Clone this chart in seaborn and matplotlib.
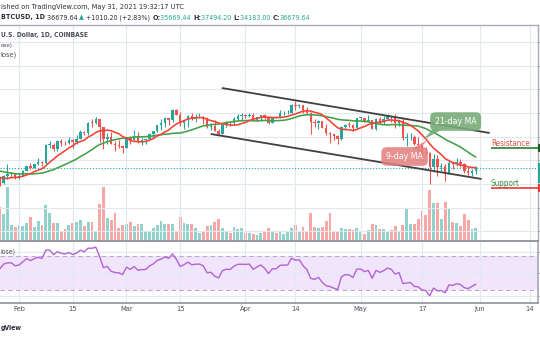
import numpy as np
import pandas as pd
import matplotlib
matplotlib.use("Agg")
import matplotlib.pyplot as plt
import matplotlib.dates as mdates
import matplotlib.transforms as mtransforms
from matplotlib import font_manager
from matplotlib.patches import Rectangle, Polygon
import seaborn as sns

# ---------------------------------------------------------------- data
# closes before the first visible candle (feed the MA / RSI calculations)
warmup_close = [29400, 32200, 33000, 31990, 33950, 36800, 39400, 40600, 40200,
                38200, 35550, 33900, 37350, 39150, 36800, 36050, 35800, 36650,
                36000, 35550, 30830, 33000, 32100, 32290, 32250, 32500]

# BTCUSD (Coinbase) daily candles, 2021-01-27 .. 2021-05-31
first_day = "2021-01-27"
open_ = [32500, 30400, 33400, 34280, 34300,
         33110, 33520, 35510, 37660, 36960, 38300, 39240, 38870, 46450, 46500,
         44850, 48000, 47420, 47180, 48580, 47900, 49150, 52150, 51600, 55900,
         55850, 57410, 54090, 48890, 49680, 47020, 46290, 46130,
         45160, 49630, 48430, 50350, 48370, 48760, 48880, 50970, 52390, 54880,
         55860, 57800, 57230, 61190, 59000, 55600, 56900, 58900, 57650, 58010,
         58090, 57370, 54090, 54350, 52300, 51300, 55060, 55860, 55780, 57620,
         58780,
         58800, 58740, 58950, 57090, 58220, 59130, 58000, 55980, 58100, 58080,
         59800, 59850, 59920, 63580, 62960, 63210, 61400, 60010, 56150, 55660,
         56470, 53800, 51700, 51190, 50100, 49060, 54030, 55050, 54880, 53580,
         57750, 57830, 56620, 57200, 53240, 57480, 56400, 57360, 58900, 58280,
         55860, 56700, 49410, 49690, 49930, 46760, 46430, 43540, 42900, 36990,
         40600, 37310, 37500, 34720, 38800, 38330, 39240, 38530, 35660, 34620,
         35669.44]
high = [32550, 33780, 38500, 34900, 34340,
        34700, 35900, 37660, 38700, 38300, 40950, 39700, 46790, 48200, 47310,
        48630, 48880, 48170, 49720, 49000, 50550, 52620, 52530, 56330, 57500,
        58350, 57530, 54180, 51370, 51950, 48370, 48390, 46600,
        49790, 50200, 52650, 51780, 49450, 49200, 51450, 52400, 54900, 57390,
        58100, 58000, 61790, 61680, 60600, 56950, 58970, 60040, 59450, 59900,
        58600, 58400, 55830, 57200, 53250, 55400, 56600, 56580, 58400, 59370,
        59800,
        59470, 60000, 59800, 58500, 59250, 59470, 58650, 58150, 58900, 61200,
        60700, 61300, 63800, 64900, 63800, 63580, 62550, 60400, 57550, 57000,
        56780, 55470, 52100, 51200, 50500, 54360, 55500, 56400, 55200, 57950,
        58450, 57950, 58980, 57220, 57900, 58350, 58640, 59500, 59300, 59580,
        56900, 58000, 51350, 51560, 50700, 49800, 46640, 45800, 43550, 42540,
        42200, 38800, 38300, 39900, 39800, 40800, 40400, 38880, 37300, 36400,
        37494.20]
low = [29240, 29850, 31970, 32840, 32300,
       32300, 33420, 35380, 36200, 36600, 38200, 37400, 37990, 45000, 43800,
       43990, 46200, 46300, 47050, 45000, 47030, 48950, 50900, 50700, 53900,
       55500, 47600, 44900, 47000, 46700, 44150, 45000, 43000,
       45000, 47060, 48150, 47500, 46300, 47070, 48880, 49300, 51850, 53000,
       54270, 55000, 56100, 59000, 54600, 53200, 54150, 57040, 56300, 57850,
       55500, 53660, 53000, 52300, 50400, 51300, 53960, 54700, 54900, 57000,
       56870,
       57950, 58500, 57000, 56500, 56800, 57350, 55500, 55800, 57700, 57900,
       59300, 59400, 59900, 61300, 62000, 60000, 59600, 51000, 54200, 53400,
       53600, 50500, 47500, 48800, 47000, 48800, 53300, 53900, 52400, 53100,
       57050, 56050, 56480, 53060, 52950, 55250, 55400, 56950, 56270, 53500,
       54440, 48800, 46000, 48800, 46650, 43800, 42100, 42250, 30000, 35000,
       33500, 35300, 31100, 34400, 36400, 37800, 37200, 34800, 33600, 33400,
       34183.00]
close = [30400, 33400, 34280, 34300, 33110,
         33520, 35510, 37660, 36960, 38300, 39240, 38870, 46450, 46500, 44850,
         48000, 47420, 47180, 48580, 47900, 49150, 52150, 51600, 55900, 55850,
         57410, 54090, 48890, 49680, 47020, 46290, 46130, 45160,
         49630, 48430, 50350, 48370, 48760, 48880, 50970, 52390, 54880, 55860,
         57800, 57230, 61190, 59000, 55600, 56900, 58900, 57650, 58010, 58090,
         57370, 54090, 54350, 52300, 51300, 55060, 55860, 55780, 57620, 58780,
         58800,
         58740, 58950, 57090, 58220, 59130, 58000, 55980, 58100, 58080, 59800,
         59850, 59920, 63580, 62960, 63210, 61400, 60010, 56150, 55660, 56470,
         53800, 51700, 51190, 50100, 49060, 54030, 55050, 54880, 53580, 57750,
         57830, 56620, 57200, 53240, 57480, 56400, 57360, 58900, 58280, 55860,
         56700, 49410, 49690, 49930, 46760, 46430, 43540, 42900, 36990, 40600,
         37310, 37500, 34720, 38800, 38330, 39240, 38530, 35660, 34620, 35669.44,
         36679.64]
# volume, thousands of BTC
volume_k = [40.8, 32.4, 64.8, 19.2, 16.8,
            19.2, 18.0, 21.6, 28.8, 16.8, 24.0, 19.2, 43.2, 33.6, 21.6, 21.6,
            12.0, 14.4, 19.2, 21.6, 22.8, 25.2, 18.0, 22.8, 22.8, 12.0, 44.4,
            64.8, 27.6, 25.2, 33.6, 15.6, 19.2,
            20.4, 22.8, 18.0, 20.4, 20.4, 10.8, 12.0, 15.6, 19.2, 24.0, 20.4,
            20.4, 20.4, 12.0, 28.8, 21.6, 20.4, 20.4, 15.6, 9.6, 12.0, 18.0,
            19.2, 22.8, 26.4, 15.6, 10.8, 9.6, 16.8, 14.4, 15.6,
            9.6, 9.6, 8.4, 7.2, 9.6, 12.0, 15.6, 10.8, 9.6, 12.0, 8.4, 12.0,
            15.6, 19.2, 10.8, 16.8, 12.0, 33.6, 16.8, 15.6, 16.8, 24.0, 33.6,
            10.8, 12.0, 15.6, 14.4, 14.4, 13.2, 15.6,
            10.8, 8.4, 13.2, 20.4, 19.2, 14.4, 14.4, 12.0, 13.2, 18.0, 12.0,
            19.2, 38.4, 20.4, 20.4, 26.4, 36.0, 31.2, 61.2, 45.6, 45.6, 26.4,
            46.8, 39.6, 22.8, 21.6, 18.0, 32.4, 25.2, 14.4, 15.6]

# trend channel and levels drawn on the chart
channel_upper_dates = ["2021-03-25 20:00", "2021-06-03 15:00"]
channel_upper_price = [70560, 51550]
channel_lower_dates = ["2021-03-22 23:00", "2021-06-01 12:00"]
channel_lower_price = [51130, 32110]
level_start = "2021-06-03 22:00"
resistance_level = 45210
support_level = 28310
ma_fast, ma_slow, rsi_len = 9, 21, 14

tick_dates = ["2021-02-01", "2021-02-15", "2021-03-01", "2021-03-15", "2021-04-01",
              "2021-04-14", "2021-05-01", "2021-05-17", "2021-06-01", "2021-06-14"]
tick_labels = ["Feb", "15", "Mar", "15", "Apr", "14", "May", "17", "Jun", "14"]

# ---------------------------------------------------------------- style
sns.set_theme(style="white")


def pick_font():
    props = [font_manager.FontProperties(family="Liberation Sans Narrow"),
             font_manager.FontProperties(family="DejaVu Sans", stretch="condensed"),
             font_manager.FontProperties(family="Liberation Sans", stretch="condensed")]
    for fp in props:
        try:
            path = font_manager.findfont(fp, fallback_to_default=False)
        except ValueError:
            continue
        if "Narrow" in path or "Condensed" in path:
            return fp.get_family()[0], fp.get_stretch(), True
    return "Liberation Sans", "normal", False


ui_font, ui_stretch, is_narrow = pick_font()
plt.rcParams["font.family"] = [ui_font, "DejaVu Sans"]
plt.rcParams["font.stretch"] = ui_stretch
# a regular-width face is drawn a little larger than its width fit
boost = 1.0 if is_narrow else 1.08

TEAL, RED = "#26a69a", "#ef5350"
GRID = "#e2e8f0"
BORDER = "#a9acb5"
TXT = "#2a2e39"

W, H = 540, 340
fig = plt.figure(figsize=(W / 100, H / 100), dpi=100)
fig.patch.set_facecolor("white")


def fy(py):
    return 1 - py / H


ax = fig.add_axes([0, fy(241), 537.5 / W, 216 / H])
axv = ax.twinx()
axr = fig.add_axes([0, fy(303), 537.5 / W, 62 / H], sharex=ax)
ax.set_zorder(axv.get_zorder() + 1)
ax.patch.set_visible(False)
axv.patch.set_visible(True)
axv.patch.set_facecolor("white")

# ---------------------------------------------------------------- series
dates = pd.date_range(first_day, periods=len(close), freq="D")
x = mdates.date2num(dates)
o = np.asarray(open_, float)
h = np.asarray(high, float)
lo = np.asarray(low, float)
c = np.asarray(close, float)
v = np.asarray(volume_k, float)
colors = np.where(c >= o, TEAL, RED)

all_close = pd.Series(list(warmup_close) + list(close), dtype=float)
n_warm = len(warmup_close)
ma9 = all_close.rolling(ma_fast).mean().to_numpy()[n_warm:]
ma21 = all_close.rolling(ma_slow).mean().to_numpy()[n_warm:]
delta = all_close.diff()
gain = delta.clip(lower=0).ewm(alpha=1 / rsi_len, adjust=False).mean()
loss = (-delta.clip(upper=0)).ewm(alpha=1 / rsi_len, adjust=False).mean()
rsi = (100 - 100 / (1 + gain / loss)).to_numpy()[n_warm:]

feb1 = pd.Timestamp("2021-02-01")
x_left = mdates.date2num(feb1 - pd.Timedelta(days=4.945))
x_right = mdates.date2num(feb1 + pd.Timedelta(days=135.07))

# ---------------------------------------------------------------- volume
axv.bar(x, v, width=0.74, color=colors, alpha=0.5, linewidth=0)
axv.set_ylim(0, v.max() * 216 / 54)
axv.set_yticks([])
for s in axv.spines.values():
    s.set_visible(False)

# ---------------------------------------------------------------- candles
ax.vlines(x, lo, h, colors=colors, linewidth=0.8, zorder=3)
ax.bar(x, np.maximum(np.abs(c - o), 350), bottom=np.minimum(o, c), width=0.64,
       color=colors, linewidth=0, zorder=4)

sns.lineplot(x=x, y=ma21, ax=ax, color="#43a047", linewidth=1.15, zorder=5,
             estimator=None, sort=False)
sns.lineplot(x=x, y=ma9, ax=ax, color="#f44336", linewidth=1.15, zorder=5,
             estimator=None, sort=False)

ax.axhline(c[-1], color=TEAL, linewidth=0.8, linestyle=(0, (1, 1.6)), zorder=2)

# channel
ax.plot(mdates.date2num(pd.to_datetime(channel_upper_dates)), channel_upper_price,
        color="#404040", linewidth=1.3, zorder=6, solid_capstyle="butt")
ax.plot(mdates.date2num(pd.to_datetime(channel_lower_dates)), channel_lower_price,
        color="#404040", linewidth=1.3, zorder=6, solid_capstyle="butt")

# resistance / support
xs = mdates.date2num(pd.Timestamp(level_start))
ax.hlines(resistance_level, xs, x_right, color="#2e7d32", linewidth=1.2, zorder=6)
ax.hlines(support_level, xs, x_right, color="#e53935", linewidth=1.2, zorder=6)

ax.set_xlim(x_left, x_right)
ax.set_ylim(5917.5, 97177.5)
ax.set_yticks(np.arange(10000, 100000, 10000))
ax.yaxis.set_ticks_position("right")
ax.tick_params(axis="y", which="both", right=True, left=False, labelright=False,
               labelleft=False, length=3, width=0.8, color=BORDER, direction="out")
ax.tick_params(axis="x", bottom=False, labelbottom=False)
ax.grid(True, color=GRID, linewidth=0.8)
ax.set_axisbelow(True)
ax.set_xlabel("")
ax.set_ylabel("")
ax.spines["left"].set_visible(False)
ax.spines["top"].set_color(BORDER)
ax.spines["right"].set_color(BORDER)
ax.spines["bottom"].set_color("#8e919a")
ax.spines["bottom"].set_linewidth(1.3)
for s in ("top", "right"):
    ax.spines[s].set_linewidth(1.0)

# price-scale markers on the right edge
bt = mtransforms.blended_transform_factory(ax.transAxes, ax.transData)
for lo_p, hi_p, col in [(resistance_level - 1900, resistance_level + 1900, "#1b5e20"),
                        (30420, 38870, TEAL),
                        (support_level - 1900, support_level + 1500, "#e53935")]:
    ax.add_patch(Rectangle((1.0, lo_p), 0.01, hi_p - lo_p, transform=bt,
                           clip_on=False, color=col, zorder=7, linewidth=0))

# ---------------------------------------------------------------- RSI pane
axr.axhspan(30, 70, color="#f1e5fb", zorder=0, linewidth=0)
for lvl in (30, 70):
    axr.axhline(lvl, color="#bca9cb", linewidth=0.8, linestyle=(0, (4, 3)), zorder=1)
sns.lineplot(x=x, y=rsi, ax=axr, color="#b462d4", linewidth=1.0, zorder=3,
             estimator=None, sort=False)
axr.set_ylim(14.6, 88.2)
axr.set_yticks([23, 50, 75])
axr.yaxis.set_ticks_position("right")
axr.tick_params(axis="y", right=True, left=False, labelright=False, labelleft=False,
                length=3, width=0.8, color=BORDER, direction="out")
axr.grid(True, color=GRID, linewidth=0.8)
axr.set_axisbelow(True)
axr.set_xlabel("")
axr.set_ylabel("")
axr.spines["left"].set_visible(False)
axr.spines["top"].set_visible(False)
axr.spines["right"].set_color(BORDER)
axr.spines["bottom"].set_color("#8e919a")
axr.spines["bottom"].set_linewidth(1.2)
axr.set_xticks(mdates.date2num(pd.to_datetime(tick_dates)))
axr.set_xticklabels(tick_labels)
axr.tick_params(axis="x", bottom=False, length=0, pad=2.2, labelcolor="#50535e")
axr.set_xlim(x_left, x_right)

# ---------------------------------------------------------------- text
renderer = fig.canvas.get_renderer()


def text_width(s, size, weight="normal"):
    t = fig.text(0, 0, s + "|", fontsize=size, fontweight=weight)
    w1 = t.get_window_extent(renderer).width
    t.set_text("|")
    w0 = t.get_window_extent(renderer).width
    t.remove()
    return w1 - w0


def size_for(s, px, weight="normal"):
    return 10 * px / text_width(s, 10, weight)


def edge_text(s, y, px, **kw):
    """Text flush with the left edge of the canvas, sized to a width."""
    size = size_for(s, px, kw.get("fontweight", "normal")) * boost
    fig.text(0.6 / W, fy(y), s, fontsize=size, va="center", ha="left", **kw)


edge_text("ished on TradingView.com, May 31, 2021 19:32:17 UTC", 7.5, 182, color=TXT)

segments = [("BTCUSD, 1D ", TXT, "bold"), ("36679.64 ", TXT, "normal"),
            ("▲", TEAL, "normal"), (" +1010.20 (+2.83%) ", TXT, "normal"),
            ("O:", TXT, "bold"), ("35669.44 ", TEAL, "normal"),
            ("H:", TXT, "bold"), ("37494.20 ", TEAL, "normal"),
            ("L:", TXT, "bold"), ("34183.00 ", TEAL, "normal"),
            ("C:", TXT, "bold"), ("36679.64", TEAL, "normal")]
total10 = sum(text_width(s, 10, wt) for s, _, wt in segments)
hdr_size = 10 * 309 / total10
xpos = 0.6
for s, col, wt in segments:
    fig.text(xpos / W, fy(17.5), s, fontsize=hdr_size, color=col, fontweight=wt,
             va="center", ha="left")
    xpos += text_width(s, hdr_size, wt)

edge_text("U.S. Dollar, 1D, COINBASE", 35, 87, color="#4a4d57", fontweight="bold")
edge_text("ose)", 45, 12, color="#4a4d57")
edge_text("lose)", 55, 16, color="#4a4d57")
edge_text("lose)", 252, 15, color="#4a4d57")
edge_text("gView", 328, 21, color=TXT, fontweight="bold")

tick_size = size_for("May", 13.3) * boost * 1.05
for lab in axr.get_xticklabels():
    lab.set_fontsize(tick_size)

lvl_x = mdates.date2num(pd.Timestamp(level_start))
ax.text(lvl_x, 46900, "Resistance", color="#e0524f", va="center", ha="left",
        fontsize=size_for("Resistance", 39), zorder=7)
ax.text(lvl_x, 30420, "Support", color="#3d8b40", va="center", ha="left",
        fontsize=size_for("Support", 29), zorder=7)

# MA callouts
box21_x = mdates.date2num(pd.Timestamp("2021-05-25 18:00"))
box9_x = mdates.date2num(pd.Timestamp("2021-05-12 11:00"))
ax.text(box21_x, 56400, "21-day MA", color="white", ha="center", va="center",
        fontsize=size_for("21-day MA", 41.5) * boost, zorder=9,
        bbox=dict(boxstyle="round,pad=0.55,rounding_size=0.6", fc="#79ab79",
                  ec="none", alpha=0.9))
ax.text(box9_x, 41620, "9-day MA", color="white", ha="center", va="center",
        fontsize=size_for("9-day MA", 37) * boost, zorder=9,
        bbox=dict(boxstyle="round,pad=0.55,rounding_size=0.6", fc="#e27d7d",
                  ec="none", alpha=0.85))
tail21 = [(mdates.date2num(pd.Timestamp("2021-05-19 18:00")), 53100),
          (mdates.date2num(pd.Timestamp("2021-05-22 09:00")), 53100),
          (mdates.date2num(pd.Timestamp("2021-05-17 04:00")), 48600)]
tail9 = [(mdates.date2num(pd.Timestamp("2021-05-14 07:00")), 44900),
         (mdates.date2num(pd.Timestamp("2021-05-16 09:00")), 44900),
         (mdates.date2num(pd.Timestamp("2021-05-18 11:00")), 48600)]
ax.add_patch(Polygon(tail21, closed=True, fc="#79ab79", ec="none", alpha=0.9, zorder=8))
ax.add_patch(Polygon(tail9, closed=True, fc="#e27d7d", ec="none", alpha=0.85, zorder=8))

fig.savefig("out.png", dpi=100, facecolor="white")
